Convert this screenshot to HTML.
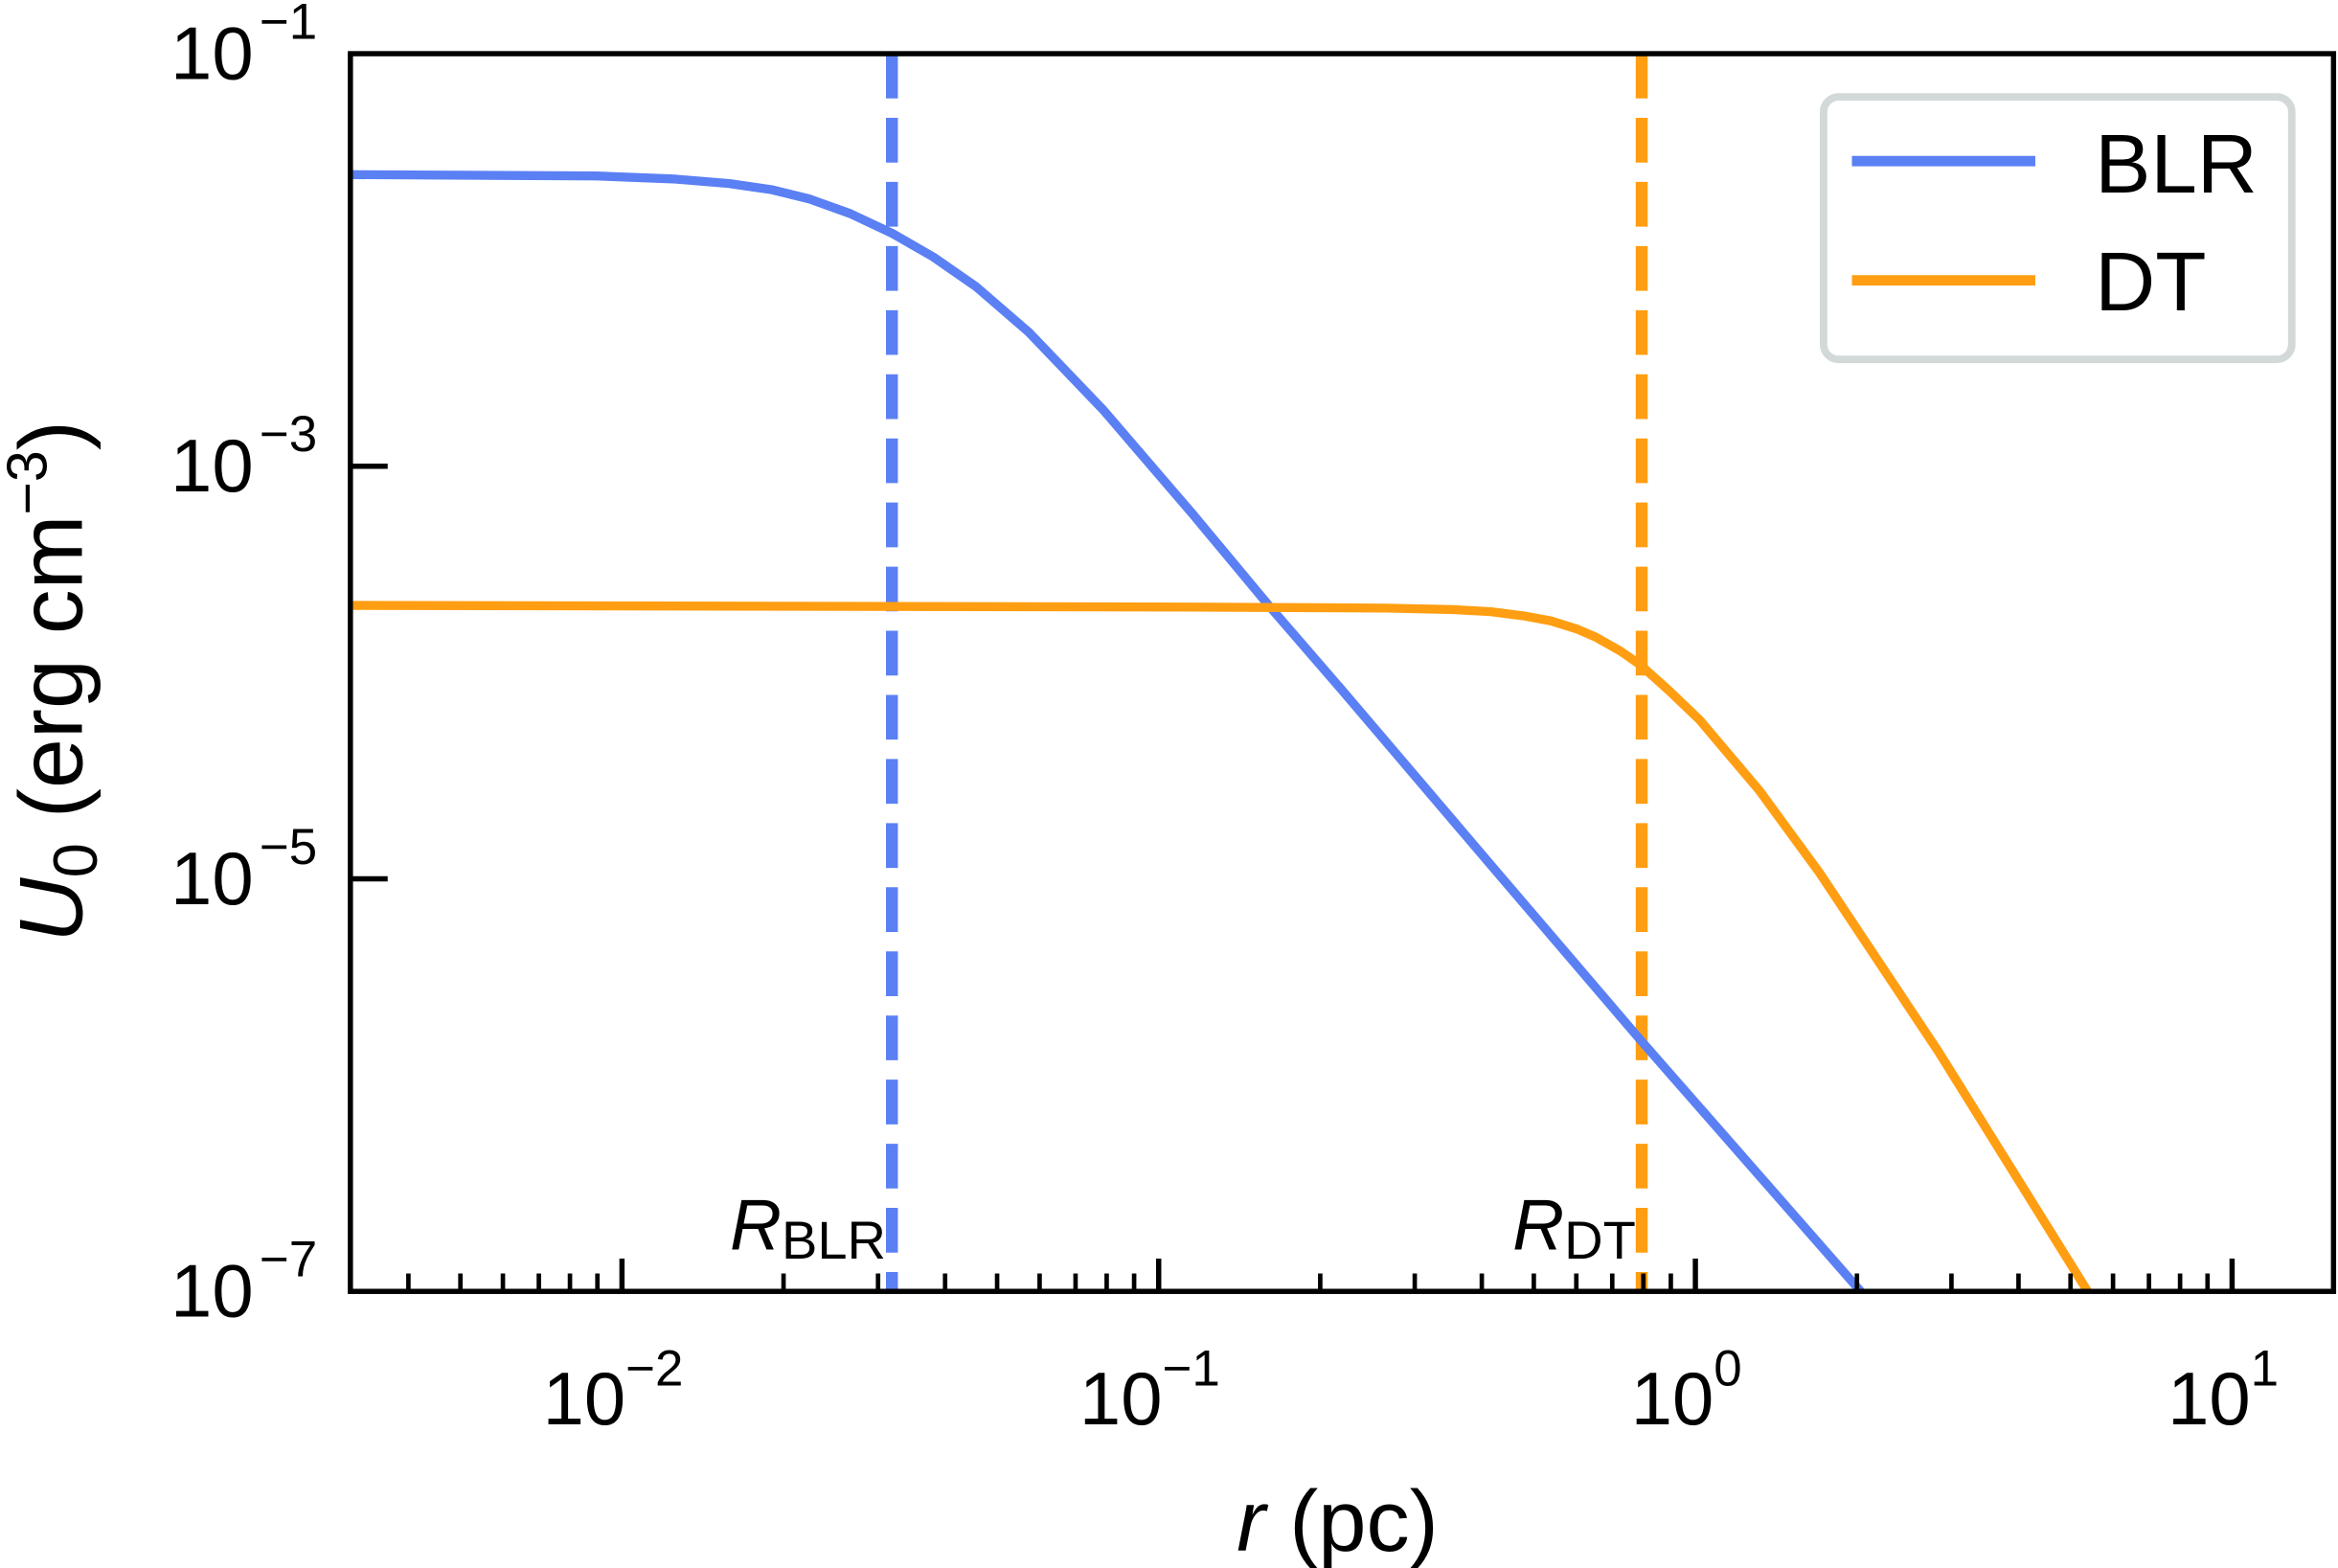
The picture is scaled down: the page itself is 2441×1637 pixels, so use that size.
<!DOCTYPE html>
<html><head><meta charset="utf-8"><style>
html,body{margin:0;padding:0;background:#fff;}
svg{display:block;}
text{font-family:"Liberation Sans","DejaVu Sans",sans-serif;fill:#000;}
</style></head><body>
<svg id="chart" width="2441" height="1637" viewBox="0 0 1568 1051.5" preserveAspectRatio="none" xmlns="http://www.w3.org/2000/svg">
<defs><clipPath id="plotclip"><rect x="235" y="36" width="1330" height="830"/></clipPath></defs>
<g id="plot" clip-path="url(#plotclip)"></g>
<g id="axes"></g>
</svg>
<script>
// data: log10(r/pc) and log10(U0 / erg cm^-3)
const blrLogR = [-2.506,-2.047,-1.900,-1.800,-1.720,-1.650,-1.575,-1.497,-1.420,-1.340,-1.242,-1.103,-0.936,-0.797,-0.658,-0.381,-0.103,0.308];
const blrLogU = [-1.586,-1.593,-1.608,-1.630,-1.660,-1.705,-1.775,-1.870,-1.985,-2.130,-2.350,-2.728,-3.234,-3.668,-4.087,-4.933,-5.779,-7.0];
const dtLogR = [-2.506,-0.936,-0.575,-0.450,-0.381,-0.320,-0.269,-0.220,-0.186,-0.140,-0.103,-0.050,0.008,0.119,0.231,0.453,0.731];
const dtLogU = [-3.675,-3.683,-3.688,-3.695,-3.705,-3.725,-3.750,-3.790,-3.828,-3.895,-3.962,-4.085,-4.230,-4.572,-4.970,-5.838,-7.0];
const radiiLogR = [-1.497,-0.100];
const radiiLabels = ["BLR","DT"];
const xTickExps = [-2,-1,0,1];
const yTickExps = [-7,-5,-3,-1];

const NS="http://www.w3.org/2000/svg";
const X0=235,X1=1565,Y0=36,Y1=866;
const xmin=-2.506,xmax=1.189,ymin=-7,ymax=-1;
const sx=v=>X0+(v-xmin)/(xmax-xmin)*(X1-X0);
const sy=v=>Y1-(v-ymin)/(ymax-ymin)*(Y1-Y0);
const blue="#5b80f4",orange="#ff9e12";
function mk(tag,attrs,parent){const e=document.createElementNS(NS,tag);for(const k in attrs)e.setAttribute(k,attrs[k]);parent.appendChild(e);return e;}
const plot=document.getElementById('plot'),axes=document.getElementById('axes');

radiiLogR.forEach((v,i)=>{
  const l=mk('line',{x1:sx(v),x2:sx(v),y1:Y0,y2:Y1,stroke:i==0?blue:orange,'stroke-width':8,'stroke-dasharray':'30 13'},plot);
  
  
});
function series(xs,ys,color,name){
  const d=xs.map((v,i)=>(i?'L':'M')+sx(v).toFixed(1)+','+sy(ys[i]).toFixed(1)).join(' ');
  const p=mk('path',{d:d,fill:'none',stroke:color,'stroke-width':6,'stroke-linejoin':'round'},plot);
  
  
}
series(blrLogR,blrLogU,blue,'blr-line');
series(dtLogR,dtLogU,orange,'dt-line');

const fr=mk('rect',{x:X0,y:Y0,width:X1-X0,height:Y1-Y0,fill:'none',stroke:'#000','stroke-width':3.5},axes);



for(let e=-3;e<=1;e++){
  for(let m=1;m<=9;m++){
    const v=e+Math.log10(m);
    if(v<xmin||v>xmax)continue;
    const x=sx(v),len=m==1?22:12;
    const t=mk('line',{x1:x,x2:x,y1:Y1,y2:Y1-len,stroke:'#000','stroke-width':m==1?3.5:3},axes);
    
    
  }
}
xTickExps.forEach(e=>{
  const t=mk('text',{x:sx(e)-6,y:955,'font-size':50,'text-anchor':'middle'},axes);
  t.innerHTML='10<tspan dy="-26" font-size="34">'+(e<0?'\u2212'+(-e):e)+'</tspan>';
  
  
});
yTickExps.forEach(e=>{
  const y=sy(e);
  if(e>ymin&&e<ymax){
    const t=mk('line',{x1:X0,x2:X0+25,y1:y,y2:y,stroke:'#000','stroke-width':3.5},axes);
    
    
  }
  const tx=mk('text',{x:170,y:y+17,'font-size':50,'text-anchor':'end'},axes);
  tx.textContent='10';
  
  
  const sp=mk('text',{x:174,y:y-10,'font-size':34},axes);
  sp.textContent='\u2212'+(-e);
  
  
});
radiiLogR.forEach((v,i)=>{
  const t=mk('text',{x:sx(v)-4,y:838,'font-size':48,'text-anchor':'end'},axes);
  t.innerHTML='<tspan font-style="italic">R</tspan><tspan dy="6" font-size="36">'+radiiLabels[i]+'</tspan>';
  
  
});
</script>
<svg style="position:absolute;left:0;top:0" width="2441" height="1637" viewBox="0 0 1568 1051.5" preserveAspectRatio="none" xmlns="http://www.w3.org/2000/svg">
<text x="897" y="1040" font-size="58" text-anchor="middle"><tspan font-style="italic">r</tspan> (pc)</text>
<text transform="translate(55,457) rotate(-90)" font-size="60" text-anchor="middle"><tspan font-style="italic">U</tspan><tspan font-size="42" dy="10">0</tspan><tspan dy="-10"> (erg cm</tspan><tspan font-size="38" dy="-24">−3</tspan><tspan dy="24">)</tspan></text>
<g>
<rect x="1223" y="65" width="314" height="176" rx="10" fill="#fff" stroke="#d3d8d8" stroke-width="5"/>
<line x1="1242" x2="1365" y1="108" y2="108" stroke="#5b80f4" stroke-width="7"/>
<text x="1405" y="129" font-size="56">BLR</text>
<line x1="1242" x2="1365" y1="188" y2="188" stroke="#ff9e12" stroke-width="7"/>
<text x="1405" y="208" font-size="56">DT</text>
</g>
</svg>
</body></html>
